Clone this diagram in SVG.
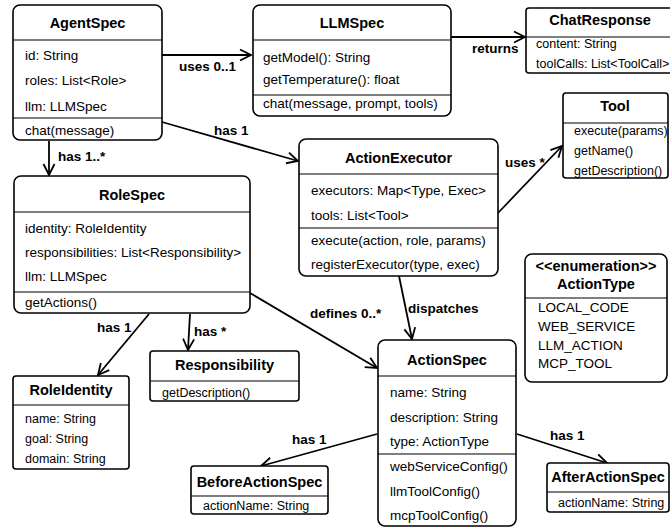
<svg xmlns="http://www.w3.org/2000/svg" width="670" height="527" viewBox="0 0 670 527">
<style>
.box{fill:#fff;stroke:#000;stroke-width:1.6}
.div{stroke:#000;stroke-width:1.2}
.t{font-family:"Liberation Sans",Arial,sans-serif;font-weight:bold;font-size:14.5px;text-anchor:middle;fill:#000}
.i{font-family:"Liberation Sans",Arial,sans-serif;font-size:13.5px;fill:#000}
.s{font-family:"Liberation Sans",Arial,sans-serif;font-size:12.5px;fill:#000}
.lbl{font-family:"Liberation Sans",Arial,sans-serif;font-weight:bold;font-size:13.5px;fill:#000}
.c{fill:none;stroke:#000;stroke-width:1.8;marker-end:url(#arr)}
</style>
<defs>
<marker id="arr" markerUnits="userSpaceOnUse" markerWidth="14" markerHeight="14" viewBox="0 0 14 14" refX="12" refY="7" orient="auto">
<path d="M1,1.5 L12,7 L1,12.5" fill="none" stroke="#000" stroke-width="1.8"/>
</marker>
</defs>
<g id="connectors">
<line class="c" x1="162" y1="55" x2="251" y2="55"/>
<text class="lbl" x="179" y="71">uses 0..1</text>
<line class="c" x1="451" y1="37" x2="525" y2="37"/>
<text class="lbl" x="472" y="53">returns</text>
<line class="c" x1="162" y1="122" x2="298" y2="161"/>
<text class="lbl" x="214" y="135">has 1</text>
<line class="c" x1="49" y1="141" x2="49" y2="175"/>
<text class="lbl" x="58" y="161">has 1..*</text>
<line class="c" x1="498" y1="213" x2="562" y2="146"/>
<text class="lbl" x="505" y="167">uses *</text>
<line class="c" x1="399" y1="276" x2="412" y2="339"/>
<text class="lbl" x="408" y="313">dispatches</text>
<line class="c" x1="250" y1="293" x2="377" y2="368"/>
<text class="lbl" x="310" y="318">defines 0..*</text>
<line class="c" x1="149" y1="314" x2="98" y2="375"/>
<text class="lbl" x="97" y="332">has 1</text>
<line class="c" x1="190" y1="314" x2="188" y2="350"/>
<text class="lbl" x="194" y="336">has *</text>
<line class="c" x1="377" y1="434" x2="261" y2="466"/>
<text class="lbl" x="292" y="444">has 1</text>
<line class="c" x1="517" y1="434" x2="607" y2="463"/>
<text class="lbl" x="550" y="440">has 1</text>
</g>
<g id="AgentSpec">
<rect class="box" x="13" y="5" width="149" height="135" rx="7"/>
<line class="div" x1="13" y1="40" x2="162" y2="40"/>
<line class="div" x1="13" y1="118" x2="162" y2="118"/>
<text class="t" x="87.5" y="28">AgentSpec</text>
<text class="i" x="25" y="60">id: String</text>
<text class="i" x="25" y="85">roles: List&lt;Role&gt;</text>
<text class="i" x="25" y="111">llm: LLMSpec</text>
<text class="i" x="25" y="135">chat(message)</text>
</g>
<g id="LLMSpec">
<rect class="box" x="253" y="5" width="198" height="111" rx="7"/>
<line class="div" x1="253" y1="40" x2="451" y2="40"/>
<line class="div" x1="253" y1="95" x2="451" y2="95"/>
<text class="t" x="352" y="28">LLMSpec</text>
<text class="i" x="263" y="62">getModel(): String</text>
<text class="i" x="263" y="84">getTemperature(): float</text>
<text class="i" x="263" y="108">chat(message, prompt, tools)</text>
</g>
<g id="ChatResponse">
<rect class="box" x="526" y="8" width="152" height="65" rx="3"/>
<line class="div" x1="526" y1="37" x2="678" y2="37"/>
<text class="t" x="600" y="25">ChatResponse</text>
<text class="s" x="536" y="47.5">content: String</text>
<text class="s" x="536" y="67.5">toolCalls: List&lt;ToolCall&gt;</text>
</g>
<g id="Tool">
<rect class="box" x="563" y="93" width="105" height="85" rx="3"/>
<line class="div" x1="563" y1="123" x2="668" y2="123"/>
<text class="t" x="615" y="111">Tool</text>
<text class="s" x="574" y="134.5">execute(params)</text>
<text class="s" x="574" y="154.5">getName()</text>
<text class="s" x="574" y="174.5">getDescription()</text>
</g>
<g id="ActionExecutor">
<rect class="box" x="299" y="139" width="199" height="137" rx="7"/>
<line class="div" x1="299" y1="174" x2="498" y2="174"/>
<line class="div" x1="299" y1="228" x2="498" y2="228"/>
<text class="t" x="398.5" y="163">ActionExecutor</text>
<text class="i" x="311" y="195">executors: Map&lt;Type, Exec&gt;</text>
<text class="i" x="311" y="220">tools: List&lt;Tool&gt;</text>
<text class="i" x="311" y="245">execute(action, role, params)</text>
<text class="i" x="311" y="269">registerExecutor(type, exec)</text>
</g>
<g id="RoleSpec">
<rect class="box" x="14" y="176" width="236" height="137" rx="7"/>
<line class="div" x1="14" y1="212" x2="250" y2="212"/>
<line class="div" x1="14" y1="292" x2="250" y2="292"/>
<text class="t" x="132" y="200">RoleSpec</text>
<text class="i" x="25" y="233">identity: RoleIdentity</text>
<text class="i" x="25" y="257">responsibilities: List&lt;Responsibility&gt;</text>
<text class="i" x="25" y="281">llm: LLMSpec</text>
<text class="i" x="25" y="307">getActions()</text>
</g>
<g id="ActionType">
<rect class="box" x="525" y="254" width="142" height="128" rx="7"/>
<line class="div" x1="525" y1="298" x2="667" y2="298"/>
<text class="t" x="596" y="271">&lt;&lt;enumeration&gt;&gt;</text>
<text class="t" x="596" y="289">ActionType</text>
<text class="i" x="538" y="312">LOCAL_CODE</text>
<text class="i" x="538" y="331">WEB_SERVICE</text>
<text class="i" x="538" y="350">LLM_ACTION</text>
<text class="i" x="538" y="368">MCP_TOOL</text>
</g>
<g id="RoleIdentity">
<rect class="box" x="13" y="376" width="116" height="93" rx="3"/>
<line class="div" x1="13" y1="405" x2="129" y2="405"/>
<text class="t" x="71" y="395">RoleIdentity</text>
<text class="s" x="25" y="422.5">name: String</text>
<text class="s" x="25" y="442.5">goal: String</text>
<text class="s" x="25" y="462.5">domain: String</text>
</g>
<g id="Responsibility">
<rect class="box" x="150" y="351" width="149" height="50" rx="3"/>
<line class="div" x1="150" y1="381" x2="299" y2="381"/>
<text class="t" x="224.5" y="370">Responsibility</text>
<text class="s" x="162" y="396.5">getDescription()</text>
</g>
<g id="ActionSpec">
<rect class="box" x="378" y="340" width="138" height="186" rx="7"/>
<line class="div" x1="378" y1="376" x2="516" y2="376"/>
<line class="div" x1="378" y1="454" x2="516" y2="454"/>
<text class="t" x="447" y="365">ActionSpec</text>
<text class="i" x="390" y="397">name: String</text>
<text class="i" x="390" y="422">description: String</text>
<text class="i" x="390" y="446">type: ActionType</text>
<text class="i" x="390" y="471">webServiceConfig()</text>
<text class="i" x="390" y="496">llmToolConfig()</text>
<text class="i" x="390" y="520">mcpToolConfig()</text>
</g>
<g id="BeforeActionSpec">
<rect class="box" x="191" y="466" width="137" height="48" rx="3"/>
<line class="div" x1="191" y1="496" x2="328" y2="496"/>
<text class="t" x="259.5" y="487">BeforeActionSpec</text>
<text class="s" x="203" y="509.5">actionName: String</text>
</g>
<g id="AfterActionSpec">
<rect class="box" x="547" y="463" width="122" height="49" rx="3"/>
<line class="div" x1="547" y1="492" x2="669" y2="492"/>
<text class="t" x="608" y="482">AfterActionSpec</text>
<text class="s" x="558" y="506.5">actionName: String</text>
</g>
</svg>
